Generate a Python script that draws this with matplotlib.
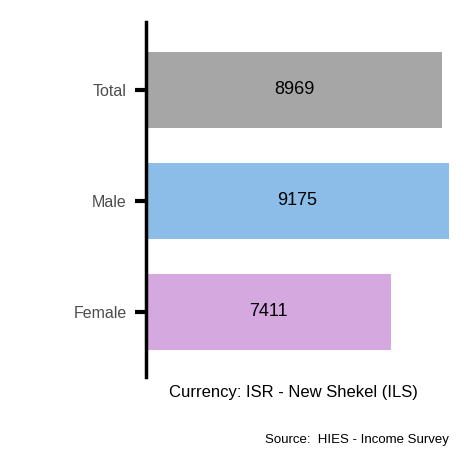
import matplotlib
matplotlib.use("Agg")
import matplotlib.pyplot as plt
plt.rcParams["font.family"] = ["Liberation Sans", "DejaVu Sans"]

categories = ["Female", "Male", "Total"]
values = [7411, 9175, 8969]
colors = ["#d5a8e0", "#8bbde8", "#a6a6a6"]

fig = plt.figure(figsize=(4.72, 4.72), dpi=100)
ax = fig.add_axes([146/472, 1-377/472, 303/472, 355/472])
ax.barh(range(3), values, height=0.685, color=colors)
for i, v in enumerate(values):
    ax.text(v/2, i, str(v), ha="center", va="center", fontsize=13, color="black")
ax.set_xlim(0, max(values))
ax.set_ylim(-0.59, 2.61)
ax.set_yticks(range(3))
ax.set_yticklabels(categories, fontsize=11.5, color="#4d4d4d")
ax.tick_params(axis="y", length=8, width=3, color="black", pad=6)
ax.set_xticks([])
for s in ["top", "right", "bottom"]:
    ax.spines[s].set_visible(False)
ax.spines["left"].set_linewidth(2.5)
ax.set_xlabel("Currency: ISR - New Shekel (ILS)", fontsize=12, labelpad=6, x=0.485)
fig.text(449/472, 1-440/472, "Source:  HIES - Income Survey", ha="right", va="center", fontsize=9.5)
fig.savefig("out.png", dpi=100)
